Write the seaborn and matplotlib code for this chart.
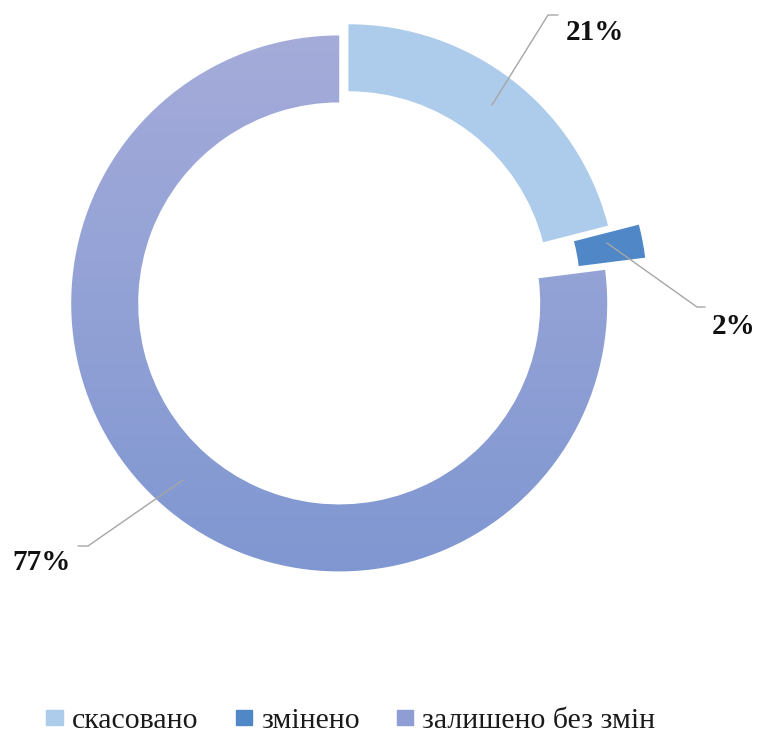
import numpy as np
import matplotlib
matplotlib.use("Agg")
import matplotlib.pyplot as plt
import seaborn as sns
from matplotlib.colors import LinearSegmentedColormap

# дані
categories = ["скасовано", "змінено", "залишено без змін"]
shares = [21, 2, 77]
labels = ["21%", "2%", "77%"]
colors = ["#ADCBEA", "#4F87C7", "#97A5D8"]
explode = [0.027, 0.134, 0.027]

sns.set_theme(style="white")
plt.rcParams["font.family"] = ["Liberation Serif", "DejaVu Serif"]

W, H = 772, 736
fig = plt.figure(figsize=(W / 100, H / 100), dpi=100)
ax = fig.add_axes([0, 0, 1, 1])

R = 268
cx, cy = 344, H - 298

# explode у pie задається в одиницях даних
wedges, _ = ax.pie(shares, colors=colors, explode=[e * R for e in explode],
                   startangle=90, counterclock=False, radius=R, center=(cx, cy),
                   wedgeprops=dict(width=0.25 * R, linewidth=0))
ax.set_xlim(0, W)
ax.set_ylim(0, H)
ax.set_aspect("equal")
ax.axis("off")

# градієнт для великого сектора
grad_cmap = LinearSegmentedColormap.from_list("g", ["#7E96D1", "#A7ADDA"])
big = wedges[2]
big.set_facecolor("none")
grad = np.linspace(0, 1, 256).reshape(-1, 1)
img = ax.imshow(grad, cmap=grad_cmap, origin="lower", aspect="auto",
                extent=(cx - R - 30, cx + R + 30, cy - R - 30, cy + R + 30), zorder=0.5)
img.set_clip_path(big)
ax.set_xlim(0, W)
ax.set_ylim(0, H)

# підписи з виносками
starts = [(492, H - 105), (607, H - 243), (183, H - 480)]
elbows = [(548, H - 15, 558), (697, H - 307, 705), (88, H - 546, 78)]
text_pos = [(595, H - 33), (734, H - 327), (42, H - 563)]
for lab, (sx, sy), (ex, ey, hx), (tx, ty) in zip(labels, starts, elbows, text_pos):
    ax.plot([sx, ex, hx], [sy, ey, ey], color="#A6A6A6", lw=1, zorder=3)
    ax.text(tx, ty, lab, ha="center", va="center", fontsize=21, fontweight="bold",
            color="#111111")

handles = [plt.Rectangle((0, 0), 1, 1, color=c) for c in colors]
handles[2] = plt.Rectangle((0, 0), 1, 1, color="#8E9ED5")
fig.legend(handles, categories, loc="center", bbox_to_anchor=(351 / W, 1 - 721 / H),
           ncol=3, frameon=False, fontsize=21.5, handlelength=0.55, handleheight=0.42,
           handletextpad=0.3, columnspacing=1.25, labelcolor="#1A1A1A")

fig.savefig("out.png", dpi=100)
